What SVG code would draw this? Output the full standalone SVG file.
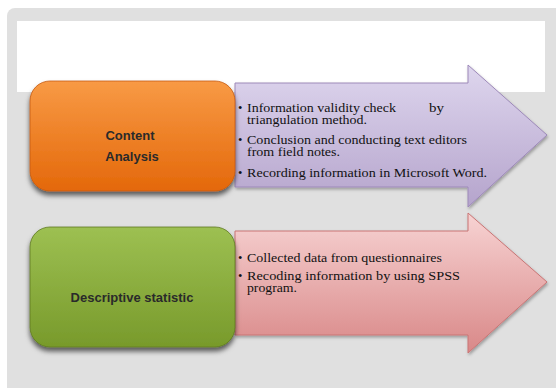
<svg xmlns="http://www.w3.org/2000/svg" width="556" height="388" viewBox="0 0 556 388">
<defs>
<linearGradient id="gOrange" x1="0" y1="0" x2="0" y2="1"><stop offset="0" stop-color="#F89A45"/><stop offset="1" stop-color="#E4680A"/></linearGradient>
<linearGradient id="gGreen" x1="0" y1="0" x2="0" y2="1"><stop offset="0" stop-color="#9DC052"/><stop offset="1" stop-color="#789A2B"/></linearGradient>
<linearGradient id="gPurple" x1="0" y1="0" x2="0" y2="1"><stop offset="0" stop-color="#DED6EE"/><stop offset="1" stop-color="#B5A4CC"/></linearGradient>
<linearGradient id="gPink" x1="0" y1="0" x2="0" y2="1"><stop offset="0" stop-color="#F7D3D3"/><stop offset="1" stop-color="#D98888"/></linearGradient>
<filter id="sh" x="-10%" y="-10%" width="130%" height="140%"><feDropShadow dx="0" dy="4" stdDeviation="2.5" flood-color="#000" flood-opacity="0.6"/></filter>
<filter id="sh2" x="-10%" y="-10%" width="130%" height="140%"><feDropShadow dx="1" dy="2" stdDeviation="1.5" flood-color="#000" flood-opacity="0.3"/></filter>
</defs>
<style>
.lab{font-family:"Liberation Sans",Arial,sans-serif;font-size:13px;font-weight:bold;fill:#2a2a2a;text-anchor:middle}
.t{font-family:"Liberation Serif","Times New Roman",serif;font-size:12.5px;fill:#111}
</style>
<rect x="0" y="0" width="556" height="388" fill="#ffffff"/>
<rect x="7" y="8" width="560" height="390" rx="8" fill="#E0E0E0"/>
<rect x="17" y="21" width="528" height="71" fill="#FFFFFF"/>
<g id="connectors"></g>
<g id="arrow1">
<path d="M235 83 H468 V65 L547 135 L468 207 V187 H235 Z" fill="url(#gPurple)" stroke="#9D89B9" stroke-width="1" filter="url(#sh2)"/>
<text class="t" x="238" y="112">•</text>
<text class="t" x="247" y="112" textLength="149" lengthAdjust="spacingAndGlyphs">Information validity check</text>
<text class="t" x="429" y="112" textLength="15" lengthAdjust="spacingAndGlyphs">by</text>
<text class="t" x="247" y="124" textLength="120" lengthAdjust="spacingAndGlyphs">triangulation method.</text>
<text class="t" x="238" y="144">•</text>
<text class="t" x="247" y="144" textLength="220" lengthAdjust="spacingAndGlyphs">Conclusion and conducting text editors</text>
<text class="t" x="247" y="156" textLength="93" lengthAdjust="spacingAndGlyphs">from field notes.</text>
<text class="t" x="238" y="177">•</text>
<text class="t" x="247" y="177" textLength="240" lengthAdjust="spacingAndGlyphs">Recording information in Microsoft Word.</text>
</g>
<g id="arrow2">
<path d="M235 231 H468 V213 L547 282 L468 353 V335 H235 Z" fill="url(#gPink)" stroke="#C97575" stroke-width="1" filter="url(#sh2)"/>
<text class="t" x="238" y="262">•</text>
<text class="t" x="247" y="262" textLength="195" lengthAdjust="spacingAndGlyphs">Collected data from questionnaires</text>
<text class="t" x="238" y="280">•</text>
<text class="t" x="247" y="280" textLength="213" lengthAdjust="spacingAndGlyphs">Recoding information  by using SPSS</text>
<text class="t" x="247" y="292" textLength="50" lengthAdjust="spacingAndGlyphs">program.</text>
</g>
<g id="content-analysis">
<rect x="30" y="81" width="205" height="110" rx="20" fill="url(#gOrange)" stroke="#C55A11" stroke-width="0.8" filter="url(#sh)"/>
<text class="lab" x="130" y="140">Content</text>
<text class="lab" x="132" y="161">Analysis</text>
</g>
<g id="descriptive-statistic">
<rect x="30" y="227" width="205" height="120" rx="20" fill="url(#gGreen)" stroke="#5F7A22" stroke-width="0.8" filter="url(#sh)"/>
<text class="lab" x="132" y="302">Descriptive statistic</text>
</g>
</svg>
